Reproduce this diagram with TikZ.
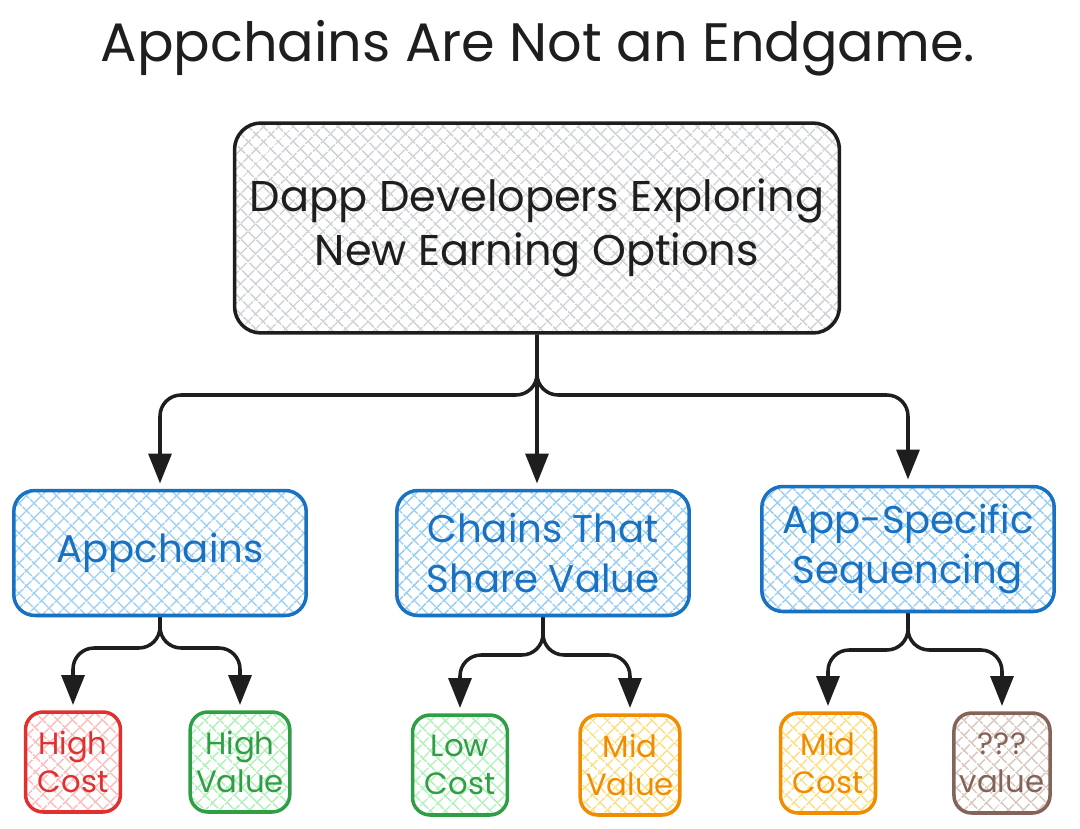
\documentclass[tikz,border=0pt]{standalone}
\usepackage{fontspec}
\setmainfont{Poppins}
\usetikzlibrary{positioning, arrows.meta, patterns.meta}

\definecolor{inkblack}{HTML}{1E1E1E}
\definecolor{hatchgray}{HTML}{D0D4D8}
\definecolor{inkblue}{HTML}{1971C2}
\definecolor{hatchblue}{HTML}{99CEF5}
\definecolor{inkred}{HTML}{E03131}
\definecolor{hatchred}{HTML}{FFC0C0}
\definecolor{inkgreen}{HTML}{2F9E44}
\definecolor{hatchgreen}{HTML}{B2F2BB}
\definecolor{inkorange}{HTML}{F08C00}
\definecolor{hatchorange}{HTML}{FFE08A}
\definecolor{inkbrown}{HTML}{846358}
\definecolor{hatchbrown}{HTML}{DCCBC3}

\begin{document}
\begin{tikzpicture}[x=0.02cm, y=-0.02cm,
    hatch/.style={preaction={fill=white},
        preaction={pattern={Lines[angle=45,distance=6.5pt,line width=0.9pt]}, pattern color=#1},
        preaction={pattern={Lines[angle=-45,distance=6.5pt,line width=0.9pt]}, pattern color=#1}},
    box/.style={draw=#1, text=#1, line width=2pt, align=center},
    topbox/.style={box=inkblack, hatch=hatchgray, rounded corners=15pt,
        minimum width=12.1cm, minimum height=4.2cm, font=\fontsize{24.5}{31}\selectfont},
    midbox/.style={box=inkblue, hatch=hatchblue, rounded corners=12pt,
        minimum width=5.85cm, minimum height=2.5cm, font=\fontsize{22}{28}\selectfont},
    leaf/.style 2 args={box=#1, hatch=#2, rounded corners=10pt,
        minimum width=1.9cm, minimum height=2cm, font=\fontsize{17.5}{21.5}\selectfont},
    link/.style={draw=inkblack, line width=2pt, rounded corners=12pt,
        -{Triangle[length=17pt,width=13pt]}, shorten >=3pt},
]
\useasboundingbox (0,0) rectangle (1080,829);

\node[font=\fontsize{30.8}{36}\selectfont, text=inkblack] (title) at (538,48) {Appchains Are Not an Endgame.};

% main box
\node[topbox] (dev) at (537,228) {Dapp Developers Exploring\\New Earning Options};

% three options
\node[midbox] (appc) at (160,553) {Appchains};
\node[midbox] (share) at (543,553) {Chains That\\Share Value};
\node[midbox] (seq) at (908,549) {App-Specific\\Sequencing};

% outcomes
\node[leaf={inkred}{hatchred}] (hicost) at (73,762) {High\\Cost};
\node[leaf={inkgreen}{hatchgreen}] (hival) at (240,762) {High\\Value};
\node[leaf={inkgreen}{hatchgreen}] (locost) at (460,765) {Low\\Cost};
\node[leaf={inkorange}{hatchorange}] (midval) at (630,765) {Mid\\Value};
\node[leaf={inkorange}{hatchorange}] (midcost) at (828,763) {Mid\\Cost};
\node[leaf={inkbrown}{hatchbrown}] (unkval) at (1002,763) {???\\value};

% forks
\coordinate (devfork) at (537,395);
\coordinate (appcfork) at (160,648);
\coordinate (sharefork) at (543,655);
\coordinate (seqfork) at (908,650);

\draw[link] (dev.south) -- (devfork) -| (appc.north);
\draw[link] (dev.south) -- (dev.south |- share.north);
\draw[link] (dev.south) -- (devfork) -| (seq.north);

\draw[link] (appc.south) -- (appcfork) -| (hicost.north);
\draw[link] (appc.south) -- (appcfork) -| (hival.north);
\draw[link] (share.south) -- (sharefork) -| (locost.north);
\draw[link] (share.south) -- (sharefork) -| (midval.north);
\draw[link] (seq.south) -- (seqfork) -| (midcost.north);
\draw[link] (seq.south) -- (seqfork) -| (unkval.north);
\end{tikzpicture}
\end{document}
